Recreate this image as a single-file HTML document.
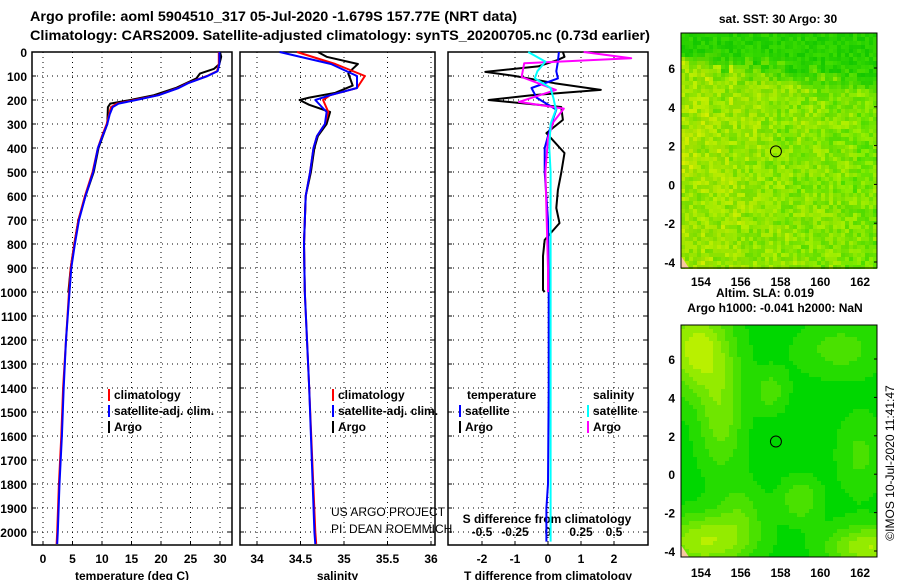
<!DOCTYPE html>
<html><head><meta charset="utf-8"><style>
body{margin:0;background:#fff}
svg{display:block;font-family:"Liberation Sans",sans-serif;font-weight:bold}
</style></head><body>
<svg id="c" width="900" height="580" viewBox="0 0 900 580">
<text x="30" y="21" font-size="14" textLength="487" lengthAdjust="spacingAndGlyphs">Argo profile: aoml 5904510_317 05-Jul-2020 -1.679S 157.77E (NRT data)</text>
<text x="30" y="40" font-size="14" textLength="620" lengthAdjust="spacingAndGlyphs">Climatology: CARS2009. Satellite-adjusted climatology: synTS_20200705.nc (0.73d earlier)</text>
</svg>
<script>
// ---- data ----
const tDepth=[0,50,80,100,130,150,180,200,215,230,260,300,350,400,500,600,700,800,900,1000,1200,1400,1600,1800,2000,2050];
const tClim=[29.8,29.8,29.5,27.8,24.5,22.9,19.5,15.5,12.5,11.5,11.2,10.8,10.0,9.3,8.4,7.1,6.0,5.3,4.7,4.4,3.9,3.4,3.1,2.7,2.4,2.3];
const tSat=[29.9,29.9,29.6,27.9,24.6,23.0,19.6,15.8,12.8,11.8,11.3,10.9,10.1,9.3,8.5,7.2,6.1,5.4,4.8,4.5,3.9,3.5,3.2,2.8,2.5,2.4];
const argoTDepth=[0,20,50,70,90,110,150,180,200,215,230,300,400,500,600,700,800,900,1000];
const argoT=[30.0,30.2,29.9,29.0,26.6,26.0,22.5,18.8,14.8,11.4,11.0,10.9,9.4,8.6,7.2,6.0,5.3,4.7,4.3];
const sDepth=[0,50,100,150,180,200,250,300,350,400,500,600,800,1000,1400,2000,2050];
const sClim=[34.46,34.9,35.24,35.15,34.84,34.76,34.82,34.78,34.69,34.65,34.61,34.56,34.54,34.55,34.6,34.67,34.68];
const sSat=[34.26,34.85,35.15,35.15,34.84,34.67,34.8,34.78,34.69,34.65,34.61,34.56,34.54,34.55,34.6,34.66,34.67];
const argoSDepth=[0,20,50,70,90,110,140,170,190,200,220,250,300,350,400,500,600,800,1000];
const argoS=[34.7,34.8,35.16,35.1,35.05,35.07,35.1,34.9,34.6,34.49,34.6,34.84,34.8,34.7,34.66,34.62,34.56,34.54,34.55];
const dDepthA=[0,20,33,60,83,100,130,158,180,200,229,283,338,421,504,575,650,713,783,850,896,992,1000];
const dArgoT=[0.45,0.5,0.3,-0.3,-1.9,-1.0,0.2,1.6,-0.5,-1.8,0.4,0.45,-0.05,0.5,0.4,0.3,0.25,0.35,-0.1,-0.15,-0.15,-0.15,-0.1];
const dDepth=[0,40,80,110,150,190,240,300,400,500,700,1000,1400,1800,1900,2040];
const dSatT=[0.33,0.3,0.25,0.3,-0.5,-0.35,0.25,0.1,-0.1,-0.1,0.0,0.02,0.02,0.0,-0.05,-0.05];
const dSatS=[-0.15,-0.02,-0.08,-0.1,0.02,0.04,0.06,0.02,0.01,0.02,0.02,0.02,0.02,0.02,0.02,0.02];
const dDepthM=[0,26,47,104,158,208,236,292,360,500,700,900,1000];
const dArgoS=[0.27,0.63,-0.18,-0.2,0.06,-0.22,0.12,0.04,0.0,-0.02,-0.01,0.0,0.0];
const depthTicks=[0,100,200,300,400,500,600,700,800,900,1000,1100,1200,1300,1400,1500,1600,1700,1800,1900,2000];
const tTicks=[0,5,10,15,20,25,30];
const sTicks=[34,34.5,35,35.5,36];
const dTTicks=[-2,-1,0,1,2];
const dSTicks=[-0.5,-0.25,0,0.25,0.5];
const latTicks=[-4,-2,0,2,4,6];
const lonTicks=[154,156,158,160,162];

const svg=document.getElementById('c');
const NS='http://www.w3.org/2000/svg';
function mk(tag,attrs,parent){const e=document.createElementNS(NS,tag);for(const k in attrs)e.setAttribute(k,attrs[k]);(parent||svg).appendChild(e);return e;}
function txt(x,y,s,size,anchor,parent){const e=mk('text',{x:x,y:y,'font-size':size,'text-anchor':anchor||'middle'},parent);e.textContent=s;return e;}

const Y=d=>52+d*0.24;
const BOT=545;
const panels=[
 {x0:32,x1:232,X:v=>43+v*5.9,ticks:tTicks,name:'temperature-panel',label:'temperature (deg C)'},
 {x0:240,x1:435,X:v=>257+(v-34)*87,ticks:sTicks,name:'salinity-panel',label:'salinity'},
 {x0:448,x1:648,X:v=>548+v*33,ticks:dTTicks,name:'difference-panel',label:'T difference from climatology'}
];
const XS=v=>548+v*132;
panels.forEach((p,i)=>{
 const g=mk('g',{});
 
 
 depthTicks.forEach(d=>{mk('line',{x1:p.x0,x2:p.x1,y1:Y(d),y2:Y(d),stroke:'#000','stroke-dasharray':'1 4','stroke-width':1},g);
   mk('line',{x1:p.x0,x2:p.x0+4,y1:Y(d),y2:Y(d),stroke:'#000'},g);mk('line',{x1:p.x1-4,x2:p.x1,y1:Y(d),y2:Y(d),stroke:'#000'},g);});
 p.ticks.forEach(v=>{const x=p.X(v);mk('line',{x1:x,x2:x,y1:52,y2:BOT,stroke:'#000','stroke-dasharray':'1 4'},g);
   mk('line',{x1:x,x2:x,y1:BOT-4,y2:BOT,stroke:'#000'},g);
   const t=txt(x,563,String(v),12,'middle',g);});
 mk('rect',{x:p.x0,y:52,width:p.x1-p.x0,height:BOT-52,fill:'none',stroke:'#000','stroke-width':1.5},g);
 const lab=txt((p.x0+p.x1)/2,580,p.label,12,'middle',g);
 
});
depthTicks.forEach(d=>{const t=txt(27,Y(d)+5,String(d),12,'end');});
dSTicks.forEach(v=>{const t=txt(XS(v),536,String(v),12,'middle');});
{const t=txt(547,523,'S difference from climatology',12,'middle');}

function line(ds,vs,X,color,name,w){
 const pts=ds.map((d,i)=>X(vs[i]).toFixed(1)+','+Y(d).toFixed(1)).join(' ');
 const e=mk('polyline',{points:pts,fill:'none',stroke:color,'stroke-width':w||2,'stroke-linejoin':'round'});
 
 
}
const P=panels;
line(argoTDepth,argoT,P[0].X,'#000','argo-temperature-line');
line(tDepth,tClim,P[0].X,'#f00','climatology-temperature-line');
line(tDepth,tSat,P[0].X,'#00f','satellite-temperature-line');
line(argoSDepth,argoS,P[1].X,'#000','argo-salinity-line');
line(sDepth,sClim,P[1].X,'#f00','climatology-salinity-line');
line(sDepth,sSat,P[1].X,'#00f','satellite-salinity-line');
line(dDepthA,dArgoT,P[2].X,'#000','argo-t-diff-line');
line(dDepth,dSatT,P[2].X,'#00f','satellite-t-diff-line');
line(dDepthM,dArgoS,XS,'#f0f','argo-s-diff-line');
line(dDepth,dSatS,XS,'#0ff','satellite-s-diff-line');

function legend(x,y,items,name){
 const g=mk('g',{});
 items.forEach((it,i)=>{const yy=y+i*16;
  if(it[1])mk('rect',{x:x,y:yy-10,width:2,height:12,fill:it[1]},g);
  txt(x+(it[1]?6:0),yy,it[0],12,'start',g);});
}
legend(108,399,[['climatology','#f00'],['satellite-adj. clim.','#00f'],['Argo','#000']],'temperature-legend');
legend(332,399,[['climatology','#f00'],['satellite-adj. clim.','#00f'],['Argo','#000']],'salinity-legend');
legend(467,399,[['temperature',null]],'t-diff-legend-title');
legend(459,415,[['satellite','#00f'],['Argo','#000']],'t-diff-legend');
legend(593,399,[['salinity',null]],'s-diff-legend-title');
legend(587,415,[['satellite','#0ff'],['Argo','#f0f']],'s-diff-legend');
{const g=mk('g',{});
 const a=txt(331,516,'US ARGO PROJECT',12,'start',g);a.setAttribute('font-weight','normal');
 const b=txt(331,533,'PI: DEAN ROEMMICH',12,'start',g);b.setAttribute('font-weight','normal');}

// ---- maps ----
function hash(i,j,s){let h=(i*374761393+j*668265263+s*1442695040)|0;h=(h^(h>>>13))*1274126177|0;return ((h^(h>>>16))>>>0)/4294967295;}
const blobs=[[153.8,6.5,1.2,1.6,1.0],[155.0,3.0,0.8,2.0,0.6],[154.2,-3.5,1.6,1.0,0.9],[162.5,-3.8,1.5,0.8,0.9],[159.0,-1.3,0.7,0.8,0.5],[161.0,6.5,1.5,1.0,0.4],[157.5,4.3,0.6,0.8,0.4],[162.0,1.0,0.8,1.5,0.35],[156.0,-2.0,0.8,1.2,0.35]];
function sla(lon,lat){let v=0;blobs.forEach(b=>{v+=b[4]*Math.exp(-((lon-b[0])**2/(2*b[2]*b[2])+(lat-b[1])**2/(2*b[3]*b[3])));});return v;}
function map(y0,y1,lat6,latm4,lonY,seed,name,smooth){
 const g=mk('g',{});
 const x0=681,x1=877,cs=4;
 const LatY=l=>latm4-(l+4)*(latm4-lat6)/10;
 const ppd=(latm4-lat6)/10;
 const nx=Math.ceil((x1-x0)/cs),ny=Math.ceil((y1-y0)/cs);
 for(let i=0;i<nx;i++)for(let j=0;j<ny;j++){
  let r,gg;
  if(!smooth){const n=hash(i,j,seed);const lat=6.7-j*cs/19.4;
   const dk=Math.max(0,Math.min(1,(lat-4.3+ (i/nx)*1.5-0.6+ (hash(i>>1,j>>1,9)-0.5))*0.9));
   const m=hash(i>>2,j>>2,seed+3);
   const rl=110+n*80+m*30-(i/nx)*50, gl=220+n*20;
   r=rl*(1-dk)+(20+n*40)*dk; gg=gl*(1-dk)+(200+n*20)*dk;
  } else {
   const lon=153+(i*cs+2)/19.9, lat=(latm4-(y0+j*cs+2))/ppd-4;
   let v=sla(lon,lat);v=Math.round(Math.min(1,v)*5)/5;
   r=v*185;gg=215+v*25;}
  mk('rect',{x:x0+i*cs,y:y0+j*cs,width:cs,height:cs,fill:`rgb(${r|0},${Math.min(240,gg)|0},0)`},g);
 }
 mk('path',{d:`M${x0} ${y1-12} L${x0+8} ${y1} L${x0} ${y1}Z`,fill:'#f8c8a0'},g);
 mk('rect',{x:x0,y:y0,width:x1-x0,height:y1-y0,fill:'none',stroke:'#000'},g);
 const c=mk('circle',{cx:681+(157.77-153)*19.9,cy:LatY(1.7),r:5.5,fill:'none',stroke:'#000'},g);
 
 latTicks.forEach(l=>{txt(675,LatY(l)+5,String(l),12,'end',g);mk('line',{x1:x1-3,x2:x1,y1:LatY(l),y2:LatY(l),stroke:'#000'},g);});
 lonTicks.forEach(l=>{const x=681+(l-153)*19.9;txt(x,lonY,String(l),12,'middle',g);});
}
map(33,268,68,262,286,1,'sst-map',false);
map(325,557,359,551,577,7,'sla-map',true);
{const t=txt(778,23,'sat. SST: 30 Argo: 30',12);}
{const t=txt(765,297,'Altim. SLA: 0.019',12);}
{const t=txt(775,312,'Argo h1000: -0.041 h2000: NaN',12);}
{const t=txt(0,0,'©IMOS 10-Jul-2020 11:41:47',12,'middle');t.setAttribute('transform','translate(894,463) rotate(-90)');t.setAttribute('font-weight','normal');
 }
</script>
</body></html>
